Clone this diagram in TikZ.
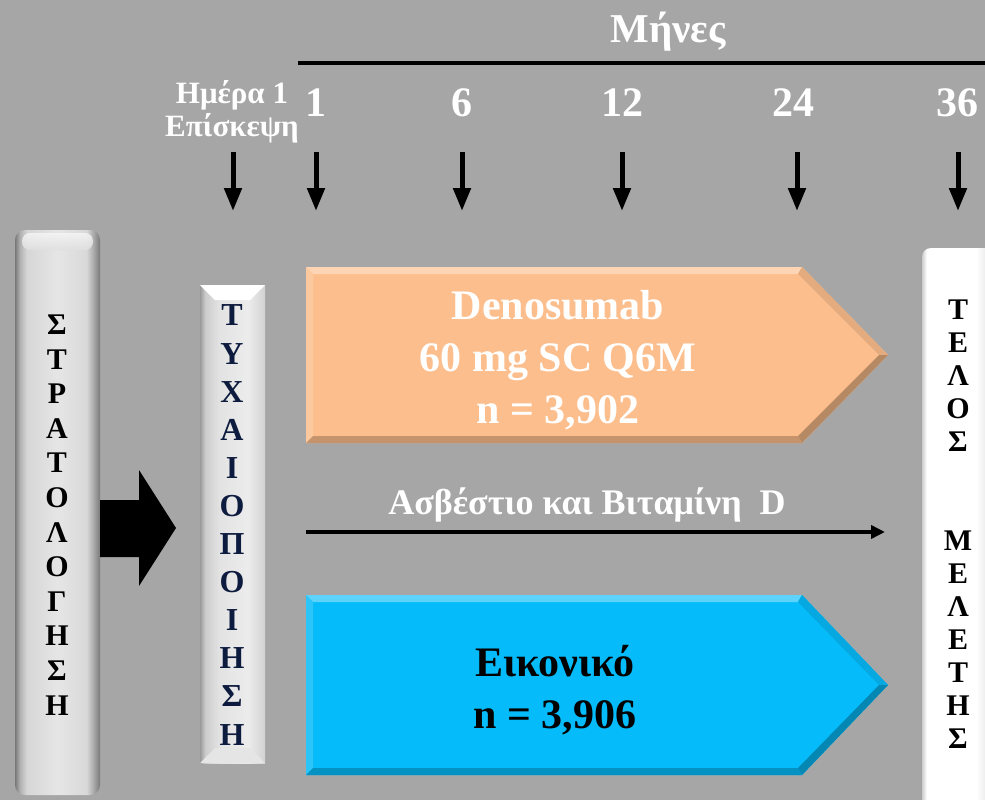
\documentclass[tikz,border=0pt]{standalone}
\usepackage{fontspec}
\setmainfont{Liberation Serif}
\usetikzlibrary{arrows.meta}
\definecolor{bggray}{HTML}{A6A6A6}
\definecolor{peach}{HTML}{FCBE8C}
\definecolor{skyblue}{HTML}{05BBF9}
\definecolor{navy}{HTML}{0D1B3E}
\pgfdeclarehorizontalshading{stratshade}{100bp}{color(0bp)=(gray!95!black); color(25bp)=(gray!95!black); color(28bp)=(gray!60); color(32bp)=(gray!32); color(50bp)=(gray!20); color(67bp)=(gray!30); color(71bp)=(gray!65); color(75bp)=(gray!95!black); color(100bp)=(gray!95!black)}
\pgfdeclarehorizontalshading{randshade}{100bp}{color(0bp)=(gray!80); color(25bp)=(gray!80); color(29bp)=(gray!40); color(40bp)=(gray!22); color(62bp)=(gray!15); color(75bp)=(gray!35); color(100bp)=(gray!35)}
\pgfdeclarehorizontalshading{endshade}{100bp}{color(0bp)=(gray!40); color(25bp)=(gray!40); color(28bp)=(white); color(60bp)=(white); color(66bp)=(gray!15); color(75bp)=(gray!60); color(100bp)=(gray!60)}
\tikzset{
  wtxt/.style={text=white,font=\bfseries,inner sep=0pt,align=center},
  btxt/.style={text=black,font=\bfseries,inner sep=0pt,align=center},
  downarrow/.style={line width=5pt,-{Triangle[width=17pt,length=23pt]}},
}
%% bevelled block arrow: #1 colour, #2 top, #3 bottom
\newcommand\bevelarrow[3]{
  \fill[#1] (306,#2) -- (802,#2) -- (888,{(#2+#3)/2}) -- (802,#3) -- (306,#3) -- cycle;
  \fill[#1!65!white] (306,#2) -- (802,#2) -- (798,#2+7) -- (313,#2+7) -- cycle;
  \fill[#1!85!white] (306,#2) -- (313,#2+7) -- (313,#3-7) -- (306,#3) -- cycle;
  \fill[#1!78!black] (306,#3) -- (313,#3-7) -- (798,#3-7) -- (802,#3) -- cycle;
  \fill[#1!90!black] (802,#2) -- (888,{(#2+#3)/2}) -- (879,{(#2+#3)/2}) -- (798,#2+7) -- cycle;
  \fill[#1!72!black] (802,#3) -- (888,{(#2+#3)/2}) -- (879,{(#2+#3)/2}) -- (798,#3-7) -- cycle;
}
\begin{document}
\begin{tikzpicture}[x=1pt,y=-1pt]
        %% Background
        \fill[bggray] (0,0) rectangle (985,800);
        \useasboundingbox (0,0) rectangle (985,800);
        %% Time line
        \coordinate (tl-start) at (298,63);
        \coordinate (tl-end) at (985,63);
        \draw[line width=4pt] (tl-start) -- (tl-end);
        \node[wtxt,font=\bfseries\fontsize{41}{41}\selectfont] (months) at (668,32) {Μήνες};
        \node[wtxt,font=\bfseries\fontsize{31}{33}\selectfont] (day1) at (232,112) {Ημέρα 1\\Επίσκεψη};
        \foreach \xx/\nm in {316/1,462/6,622/12,793/24,957/36}
          \node[wtxt,font=\bfseries\fontsize{42}{42}\selectfont] (m\nm) at (\xx,103) {\nm};
        %% Visit arrows
        \foreach \xx/\nm in {233/d0,316/d1,462/d6,622/d12,797/d24,958/d36}{
          \coordinate (\nm-top) at (\xx,152);
          \coordinate (\nm-bot) at (\xx,211);
          \draw[downarrow] (\nm-top) -- (\nm-bot);
        }
        %% Screening bar
        \shade[rounded corners=10pt,shading=stratshade] (15,230) rectangle (100,795);
        \shade[rounded corners=8pt,top color=white!92!gray,bottom color=gray!25,opacity=0.85] (22,233) rectangle (93,250);
        \node[btxt,font=\bfseries\fontsize{30}{34.6}\selectfont] (strat) at (57,515)
          {Σ\\Τ\\Ρ\\Α\\Τ\\Ο\\Λ\\Ο\\Γ\\Η\\Σ\\Η};
        %% Block arrow
        \fill[black] (100,500) -- (139,500) -- (139,470) -- (176,528) -- (139,586) -- (139,557) -- (100,557) -- cycle;
        %% Randomisation bar
        \shade[shading=randshade] (200,285) rectangle (265,763);
        \fill[white] (200,285) -- (265,285) -- (250,300) -- (215,300) -- cycle;
        \fill[gray!20] (200,763) -- (265,763) -- (250,748) -- (215,748) -- cycle;
        \node[btxt,text=navy,font=\bfseries\fontsize{32}{38.1}\selectfont] (random) at (232,525)
          {Τ\\Υ\\Χ\\Α\\Ι\\Ο\\Π\\Ο\\Ι\\Η\\Σ\\Η};
        %% End of study bar
        \shade[rounded corners=9pt,shading=endshade] (922,248) rectangle (1000,815);
        \node[btxt,font=\bfseries\fontsize{30}{33}\selectfont] (endstudy) at (958,524)
          {Τ\\Ε\\Λ\\Ο\\Σ\\ \\ \\Μ\\Ε\\Λ\\Ε\\Τ\\Η\\Σ};
        %% Treatment arms
        \bevelarrow{peach}{267}{443}
        \node[wtxt,font=\bfseries\fontsize{42}{52}\selectfont] (deno) at (558,360)
          {Denosumab\\60 mg SC Q6M\\n = 3,902};
        \bevelarrow{skyblue}{595}{775}
        \node[btxt,font=\bfseries\fontsize{42}{52}\selectfont] (plac) at (555,690)
          {Εικονικό\\n = 3,906};
        %% Calcium and vitamin D
        \coordinate (ca-start) at (306,532);
        \coordinate (ca-end) at (885,532);
        \draw[line width=4pt,-{Triangle[width=13pt,length=14pt]}] (ca-start) -- (ca-end);
        \node[wtxt,font=\bfseries\fontsize{36}{36}\selectfont] (calc) at (587,505) {Ασβέστιο και Βιταμίνη~~D};
\end{tikzpicture}
\end{document}
